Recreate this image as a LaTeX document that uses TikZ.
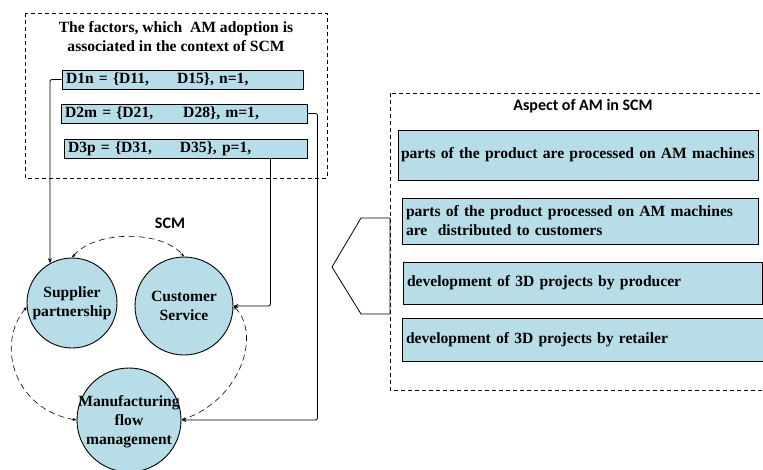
\documentclass[tikz,border=0pt]{standalone}
\usepackage{fontspec}
\setmainfont{Liberation Serif}
\newfontfamily\calibri{Carlito}
\usetikzlibrary{arrows.meta}
\definecolor{lightblue}{RGB}{183,221,232}

\begin{document}
\begin{tikzpicture}[x=1pt, y=-1pt, font=\fontsize{15.6}{19}\selectfont\bfseries,
	>={Stealth[length=5pt,width=4pt]},
	frame/.style={dash pattern=on 4pt off 3pt, line width=0.7pt},
	factor/.style={draw, fill=lightblue, line width=0.9pt, inner xsep=4pt, inner ysep=1pt, minimum height=19pt, align=left},
	aspect/.style={draw, fill=lightblue, line width=0.9pt, inner xsep=4pt, align=left},
	area/.style={circle, draw, fill=lightblue, line width=0.9pt},
	link/.style={{Stealth[length=4pt,width=3pt]}-{Stealth[length=4pt,width=3pt]}, dash pattern=on 6pt off 4pt, line width=0.6pt}]
	\useasboundingbox (0,0) rectangle (763,469);

	% factors
	\draw[frame] (25,13) rectangle (327,178);
	\node (title) at (176,36.5) [align=center] {The factors, which \ AM adoption is\\associated in the context of SCM};
	\node (d1) at (182.5,79.5) [factor, text width=233pt] {D1n = \{D11,\hspace{28pt}D15\}, n=1,};
	\node (d2) at (184,113.5) [factor, text width=238pt] {D2m = \{D21,\hspace{30pt}D28\}, m=1,};
	\node (d3) at (185.5,148.5) [factor, text width=235pt] {D3p = \{D31,\hspace{28pt}D35\}, p=1,};

	% SCM
	\node (scm) at (170,223) {\calibri\fontsize{16}{19}\selectfont SCM};
	\node (sp) at (72,303) [area, minimum size=90pt, label={[align=center]center:Supplier\\partnership}] {};
	\node (cs) at (184,306) [area, minimum size=98pt, label={[align=center]center:Customer\\Service}] {};
	\node (mf) at (129,420) [area, minimum size=104pt, label={[align=center, yshift=-2pt]center:Manufacturing\\flow\\management}] {};

	\draw[link] (sp.north) .. controls (95,230) and (162,230) .. (cs.north);
	\draw[link] (sp.185) .. controls (-5,345) and (15,410) .. (mf.west);
	\draw[link] (cs.east) .. controls (262,335) and (240,400) .. (mf.east);

	\draw[->, rounded corners=2pt, line width=0.8pt] (d1.west) -| (sp.119);
	\draw[->, rounded corners=2pt, line width=0.8pt] ([xshift=-37pt]d3.south east) |- (cs.east);
	\draw[->, rounded corners=2pt, line width=0.8pt] (d2.east) -- ++(10,0) |- (mf.east);

	% aspects
	\draw[frame] (390,93) rectangle (775,390);
	\node (aspect) at (583,106) {\calibri\fontsize{16}{19}\selectfont Aspect of AM in SCM};
	\node (a1) at (578,155) [aspect, minimum height=50pt, inner xsep=3pt, text width=354pt] {\mbox{parts of the product are processed on AM machines}};
	\node (a2) at (580,221) [aspect, minimum height=46pt, text width=348pt] {parts of the product processed on AM machines\\are \ distributed to customers};
	\node (a3) at (582.5,283) [aspect, minimum height=42pt, text width=351pt] {development of 3D projects by producer};
	\node (a4) at (585,339.5) [aspect, minimum height=43pt, text width=358pt] {development of 3D projects by retailer};
	\draw[line width=0.8pt] (390,218) -- (361,218) -- (332,267) -- (361,314) -- (390,314) -- cycle;
\end{tikzpicture}
\end{document}
